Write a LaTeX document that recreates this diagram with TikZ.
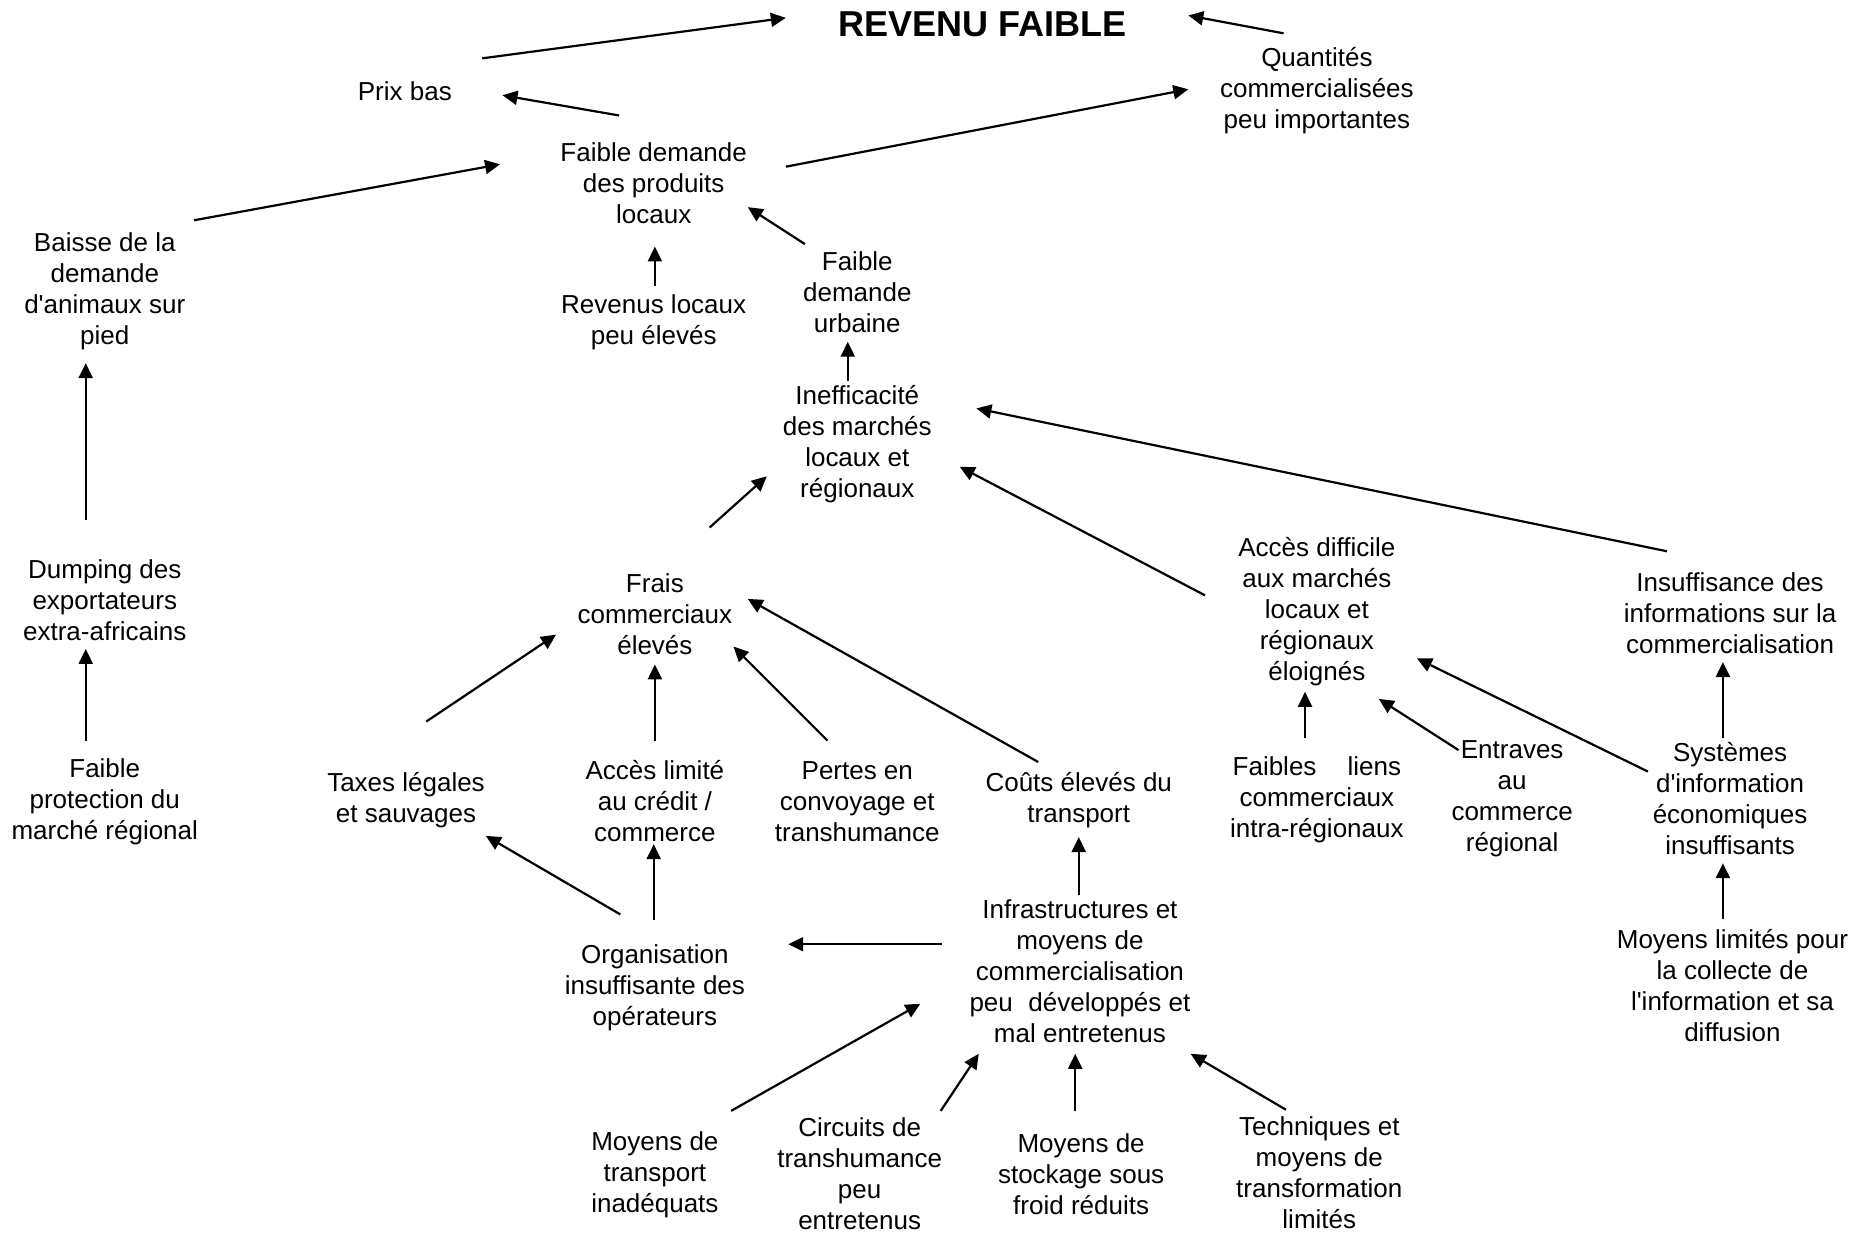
\documentclass[tikz,border=0pt]{standalone}
\usepackage{fontspec}
\setmainfont{Liberation Sans}[Ligatures=TeXOff]
\usetikzlibrary{arrows.meta}
\begin{document}
\begin{tikzpicture}[x=0.5954pt,y=-0.5954pt,
  lbl/.style={align=center,inner sep=0pt,font=\fontsize{13}{15.5}\selectfont},
  arr/.style={line width=1.1pt,-{Triangle[length=7.5pt,width=7pt]}}]
\fill[white] (0,0) rectangle (1568,1041);
\useasboundingbox (0,0) rectangle (1568,1041);
% nodes
\node[inner sep=0pt,font=\fontsize{18}{20}\selectfont\bfseries] (rev) at (825,20) {REVENU FAIBLE};
\node[lbl] (prix) at (340,77) {Prix bas};
\node[lbl] (quant) at (1106,76) {Quantités\\commercialisées\\peu importantes};
\node[lbl] (fd) at (549,154) {Faible demande\\des produits\\locaux};
\node[lbl] (baisse) at (88,245) {Baisse de la\\demande\\d'animaux sur\\pied};
\node[lbl] (revloc) at (549,271) {Revenus locaux\\peu élevés};
\node[lbl] (fdu) at (720,245) {Faible\\demande\\urbaine};
\node[lbl] (ineff) at (720,373) {Inefficacité\\des marchés\\locaux et\\régionaux};
\node[lbl] (dump) at (88,504) {Dumping des\\exportateurs\\extra-africains};
\node[lbl] (frais) at (550,516) {Frais\\commerciaux\\élevés};
\node[lbl] (accdiff) at (1106,514) {Accès difficile\\aux marchés\\locaux et\\régionaux\\éloignés};
\node[lbl] (insuf) at (1453,515) {Insuffisance des\\informations sur la\\commercialisation};
\node[lbl] (fprot) at (88,673) {Faible\\protection du\\marché régional};
\node[lbl] (taxes) at (341,672) {Taxes légales\\et sauvages};
\node[lbl] (acclim) at (550,673) {Accès limité\\au crédit /\\commerce};
\node[lbl] (pertes) at (720,673) {Pertes en\\convoyage et\\transhumance};
\node[lbl] (couts) at (906,672) {Coûts élevés du\\transport};
\node[lbl] (liens) at (1106,672) {Faibles\hspace{1.2em}liens\\commerciaux\\intra-régionaux};
\node[lbl] (entr) at (1270,671) {Entraves\\au\\commerce\\régional};
\node[lbl] (sys) at (1453,671) {Systèmes\\d'information\\économiques\\insuffisants};
\node[lbl] (infra) at (907,816) {Infrastructures et\\moyens de\\commercialisation\\peu\hspace{0.6em}développés et\\mal entretenus};
\node[lbl] (orga) at (550,830) {Organisation\\insuffisante des\\opérateurs};
\node[lbl] (mlim) at (1455,828) {Moyens limités pour\\la collecte de\\l'information et sa\\diffusion};
\node[lbl] (mtrans) at (550,987) {Moyens de\\transport\\inadéquats};
\node[lbl] (circ) at (722,986) {Circuits de\\transhumance\\peu\\entretenus};
\node[lbl] (stock) at (908,986) {Moyens de\\stockage sous\\froid réduits};
\node[lbl] (tech) at (1108,985) {Techniques et\\moyens de\\transformation\\limités};
% connectors
\draw[arr] ([shift={(65,-28)}]prix.center) -- ([shift={(-165,-5)}]rev.center);
\draw[arr] ([shift={(-28,-48)}]quant.center) -- ([shift={(173,-7)}]rev.center);
\draw[arr] ([shift={(-29,-57)}]fd.center) -- ([shift={(82,3)}]prix.center);
\draw[arr] ([shift={(111,-14)}]fd.center) -- ([shift={(-108,-1)}]quant.center);
\draw[arr] ([shift={(75,-60)}]baisse.center) -- ([shift={(-129,-16)}]fd.center);
\draw[arr] ([shift={(1,-31)}]revloc.center) -- ([shift={(1,53)}]fd.center);
\draw[arr] ([shift={(-44,-40)}]fdu.center) -- ([shift={(79,20)}]fd.center);
\draw[arr] ([shift={(-8,-53)}]ineff.center) -- ([shift={(-8,42)}]fdu.center);
\draw[arr] ([shift={(-16,-67)}]dump.center) -- ([shift={(-16,60)}]baisse.center);
\draw[arr] ([shift={(-16,-51)}]fprot.center) -- ([shift={(-16,41)}]dump.center);
\draw[arr] ([shift={(46,-73)}]frais.center) -- ([shift={(-76,27)}]ineff.center);
\draw[arr] ([shift={(-94,-14)}]accdiff.center) -- ([shift={(86,19)}]ineff.center);
\draw[arr] ([shift={(-53,-52)}]insuf.center) -- ([shift={(100,-30)}]ineff.center);
\draw[arr] ([shift={(17,-66)}]taxes.center) -- ([shift={(-83,17)}]frais.center);
\draw[arr] ([shift={(0,-51)}]acclim.center) -- ([shift={(0,42)}]frais.center);
\draw[arr] ([shift={(-25,-51)}]pertes.center) -- ([shift={(66,27)}]frais.center);
\draw[arr] ([shift={(-34,-32)}]couts.center) -- ([shift={(78,-13)}]frais.center);
\draw[arr] ([shift={(-10,-52)}]liens.center) -- ([shift={(-10,67)}]accdiff.center);
\draw[arr] ([shift={(-45,-41)}]entr.center) -- ([shift={(52,73)}]accdiff.center);
\draw[arr] ([shift={(-69,-23)}]sys.center) -- ([shift={(84,39)}]accdiff.center);
\draw[arr] ([shift={(-6,-51)}]sys.center) -- ([shift={(-6,41)}]insuf.center);
\draw[arr] ([shift={(-8,-56)}]mlim.center) -- ([shift={(-6,54)}]sys.center);
\draw[arr] ([shift={(-1,-64)}]infra.center) -- ([shift={(0,31)}]couts.center);
\draw[arr] ([shift={(-29,-62)}]orga.center) -- ([shift={(67,30)}]taxes.center);
\draw[arr] ([shift={(-1,-57)}]orga.center) -- ([shift={(-1,36)}]acclim.center);
\draw[arr] ([shift={(-116,-23)}]infra.center) -- ([shift={(112,-37)}]orga.center);
\draw[arr] ([shift={(64,-54)}]mtrans.center) -- ([shift={(-134,27)}]infra.center);
\draw[arr] ([shift={(68,-53)}]circ.center) -- ([shift={(-85,69)}]infra.center);
\draw[arr] ([shift={(-5,-53)}]stock.center) -- ([shift={(-4,69)}]infra.center);
\draw[arr] ([shift={(-28,-53)}]tech.center) -- ([shift={(93,69)}]infra.center);
\end{tikzpicture}
\end{document}
